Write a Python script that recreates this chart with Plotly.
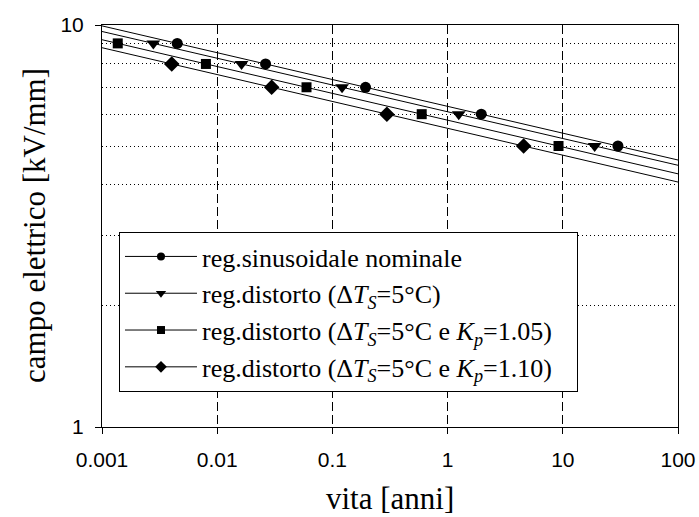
import numpy as np
import plotly.graph_objects as go

# ---- data ----
x_ticks = [0.001, 0.01, 0.1, 1, 10, 100]
x_tick_labels = ["0.001", "0.01", "0.1", "1", "10", "100"]
y_ticks = [1, 10]
y_tick_labels = ["1", "10"]
y_minor = [2, 3, 4, 5, 6, 7, 8, 9]

names = [
    "reg.sinusoidale nominale",
    "reg.distorto (Δ<i>T<sub>S</sub></i>=5°C)",
    "reg.distorto (Δ<i>T<sub>S</sub></i>=5°C e <i>K<sub>p</sub></i>=1.05)&nbsp;&nbsp;&nbsp;",
    "reg.distorto (Δ<i>T<sub>S</sub></i>=5°C e <i>K<sub>p</sub></i>=1.10)&nbsp;&nbsp;&nbsp;",
]

nominale_x = [0.0045, 0.0263, 0.194, 1.96, 30.1]
nominale_y = [9, 8, 7, 6, 5]

distorto_x = [0.00279, 0.01626, 0.1213, 1.25, 18.9]
distorto_y = [9, 8, 7, 6, 5]

kp105_x = [0.00137, 0.00798, 0.0596, 0.596, 9.18]
kp105_y = [9, 8, 7, 6, 5]

kp110_x = [0.00403, 0.0297, 0.297, 4.57]
kp110_y = [8, 7, 6, 5]

# symbol, plot marker size, legend marker size
series = [
    (nominale_x, nominale_y, "circle", 11, 8),
    (distorto_x, distorto_y, "triangle-down", 12, 9),
    (kp105_x, kp105_y, "square", 10, 8),
    (kp110_x, kp110_y, "diamond", 12, 9),
]

x_range = [0.001, 100]

fig = go.Figure()

for (xs, ys, sym, sz, lsz), name in zip(series, names):
    # straight power-law line (fit of the points in log-log space)
    p = np.polyfit(np.log10(xs), np.log10(ys), 1)
    lx = np.logspace(np.log10(x_range[0]), np.log10(x_range[1]), 50)
    ly = 10 ** np.polyval(p, np.log10(lx))
    fig.add_trace(go.Scatter(x=lx, y=ly, mode="lines",
                             line=dict(color="black", width=1),
                             showlegend=False, hoverinfo="skip"))
    fig.add_trace(go.Scatter(x=xs, y=ys, mode="markers",
                             marker=dict(symbol=sym, size=sz, color="black"),
                             showlegend=False))
    # legend entry
    fig.add_trace(go.Scatter(x=[None], y=[None], mode="lines+markers", name=name,
                             line=dict(color="black", width=1),
                             marker=dict(symbol=sym, size=lsz, color="black"),
                             legendgroup=name))

axis_common = dict(
    showline=True, linecolor="black", linewidth=1, mirror=True,
    ticks="outside", ticklen=6, tickcolor="black", zeroline=False,
    automargin=False,
    tickfont=dict(family="Liberation Sans", size=21, color="black"),
)

title_font = dict(family="Liberation Serif", size=31, color="black")

fig.update_layout(
    width=699, height=517,
    margin=dict(l=102, r=21, t=25, b=90),
    paper_bgcolor="white", plot_bgcolor="white",
    xaxis=dict(type="log", range=[-3, 2], tickmode="array",
               tickvals=x_ticks, ticktext=x_tick_labels,
               showgrid=True, gridcolor="black", gridwidth=1, griddash="9px,4px",
               ticklabelstandoff=8,
               **axis_common),
    yaxis=dict(type="log", range=[0, 1], tickmode="array",
               tickvals=y_ticks, ticktext=y_tick_labels,
               showgrid=False,
               minor=dict(tickmode="array", tickvals=y_minor, showgrid=True,
                          gridcolor="black", gridwidth=1, griddash="1px,3px", ticks=""),
               ticklabelstandoff=7,
               **axis_common),
    legend=dict(x=0.0295, y=0.485, xanchor="left", yanchor="top",
                bgcolor="white", bordercolor="black", borderwidth=1,
                font=dict(family="Liberation Serif", size=26, color="black"),
                itemwidth=72, traceorder="grouped", tracegroupgap=0),
    showlegend=True,
    annotations=[
        dict(text="vita [anni]", xref="paper", yref="paper", x=0.5, y=0,
             xanchor="center", yanchor="middle", yshift=-71, showarrow=False,
             font=title_font),
        dict(text="campo elettrico [kV/mm]", xref="paper", yref="paper", x=0, y=0.5,
             xanchor="center", yanchor="middle", xshift=-68, textangle=-90,
             showarrow=False, font=title_font),
    ],
)

fig.write_html("out.html", config={"displayModeBar": False},
               post_script="document.body.style.margin='0';document.body.style.padding='0';")
